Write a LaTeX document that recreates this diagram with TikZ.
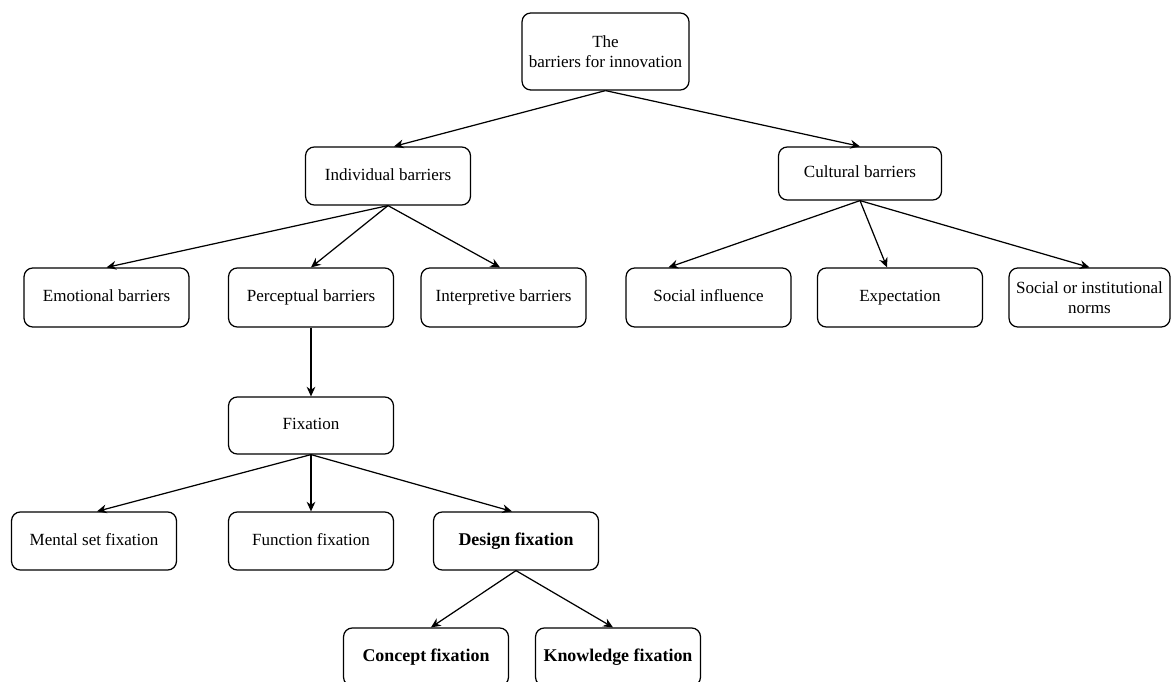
\documentclass[tikz,border=0pt]{standalone}
\usepackage{fontspec}
\setmainfont{Liberation Serif}
\usetikzlibrary{arrows.meta}

\tikzset{
  frame/.style={draw, rounded corners=5pt, line width=0.7pt, align=center,
    minimum width=3.3cm, minimum height=1.16cm, inner sep=2pt,
    font=\fontsize{9.7}{11.4}\selectfont},
  box/.style={frame, text height=1.6ex, text depth=0.5ex},
  bbox/.style={box, font=\fontsize{10.2}{12}\selectfont\bfseries},
  link/.style={-{Stealth[length=5.5pt,width=5pt]}, line width=0.7pt}
}

\begin{document}
\begin{tikzpicture}[x=0.02cm, y=-0.02cm]
        \useasboundingbox (0,0) rectangle (1171,682);
        % top
        \node[frame, minimum width=3.34cm, minimum height=1.54cm] (root) at (605.5,51.5) {The\\barriers for innovation};
        \node[box] (indiv) at (388,176) {Individual barriers};
        \node[box, minimum width=3.26cm, minimum height=1.06cm] (cult) at (860,173.5) {Cultural barriers};
        % second row
        \node[box, minimum height=1.18cm] (emo) at (106.5,297.5) {Emotional barriers};
        \node[box, minimum height=1.18cm] (perc) at (311,297.5) {Perceptual barriers};
        \node[box, minimum height=1.18cm] (interp) at (503.5,297.5) {Interpretive barriers};
        \node[box, minimum height=1.18cm] (socinf) at (708.5,297.5) {Social influence};
        \node[box, minimum height=1.18cm] (expect) at (900,297.5) {Expectation};
        \node[frame, minimum height=1.18cm, minimum width=3.22cm] (norms) at (1089.5,297.5) {Social or institutional\\norms};
        % fixation
        \node[box, minimum height=1.14cm] (fix) at (311,425.5) {Fixation};
        \node[box] (mental) at (94,541) {Mental set fixation};
        \node[box] (func) at (311,541) {Function fixation};
        \node[bbox] (design) at (516,541) {Design fixation};
        \node[bbox] (concept) at (426,657) {Concept fixation};
        \node[bbox] (know) at (618,657) {Knowledge fixation};

        \draw[link] (root.south) -- ([xshift=0.12cm]indiv.north);
        \draw[link] (root.south) -- (cult.north);
        \draw[link] (indiv.south) -- (emo.north);
        \draw[link] (indiv.south) -- (perc.north);
        \draw[link] (indiv.south) -- ([xshift=-0.07cm]interp.north);
        \draw[link] (cult.south) -- ([xshift=-0.8cm]socinf.north);
        \draw[link] (cult.south) -- ([xshift=-0.26cm]expect.north);
        \draw[link] (cult.south) -- (norms.north);
        \draw[link] (perc.south) -- (fix.north);
        \draw[link] (fix.south) -- ([xshift=0.06cm]mental.north);
        \draw[link] (fix.south) -- (func.north);
        \draw[link] (fix.south) -- ([xshift=-0.08cm]design.north);
        \draw[link] (design.south) -- ([xshift=0.1cm]concept.north);
        \draw[link] (design.south) -- ([xshift=-0.1cm]know.north);
      \end{tikzpicture}
\end{document}
